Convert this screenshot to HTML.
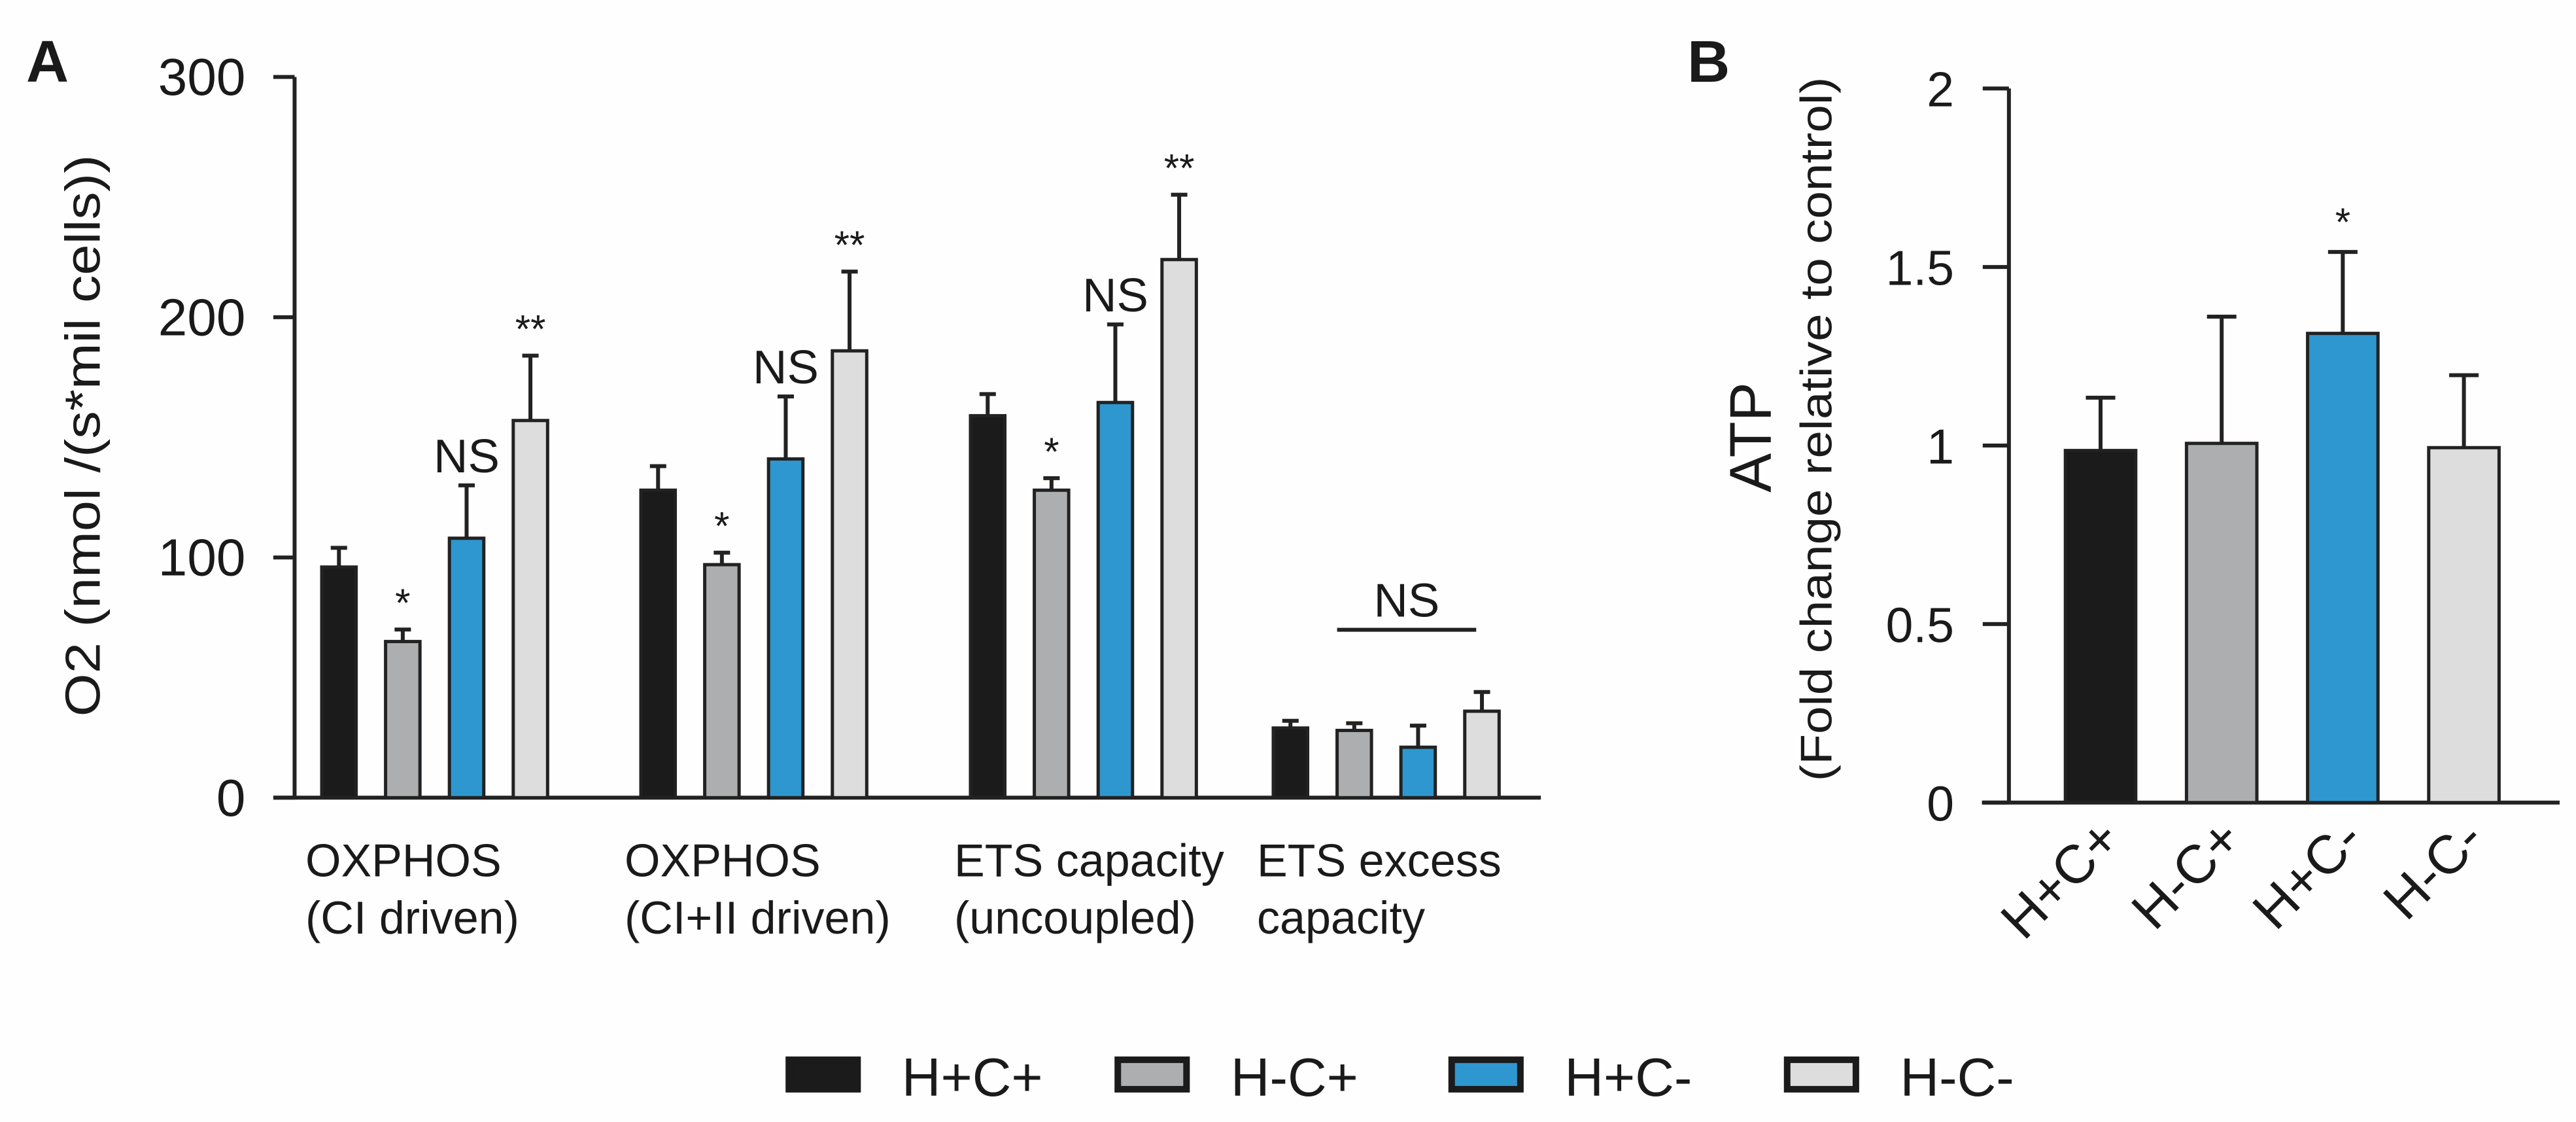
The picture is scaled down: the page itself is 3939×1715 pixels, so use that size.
<!DOCTYPE html>
<html><head><meta charset="utf-8"><style>
html,body{margin:0;padding:0;background:#fff}
svg{display:block}
text{font-family:"Liberation Sans",Arial,sans-serif;fill:#1a1a1a}
</style></head><body>
<svg id="fig" width="3939" height="1715" viewBox="0 0 1574 685" preserveAspectRatio="none" xmlns="http://www.w3.org/2000/svg">
<rect x="0" y="0" width="1574" height="685" fill="#fefefe"/>
<text x="16" y="50" font-size="36" font-weight="bold">A</text>
<text x="1031" y="50" font-size="36" font-weight="bold">B</text>
<g id="ga"></g>
<g id="gb"></g>
<g id="leg"></g>
</svg>
<script>
const seriesNames = ["H+C+","H-C+","H+C-","H-C-"];
const seriesColors = ["#1b1b1b","#acaeb0","#2e97cf","#dddddd"];
const groupLines = [["OXPHOS","(CI driven)"],["OXPHOS","(CI+II driven)"],["ETS capacity","(uncoupled)"],["ETS excess","capacity"]];
const aMeans = [[96,65,108,157],[128,97,141,186],[159,128,164.5,224],[29,28,21,36]];
const aErrs = [[8,5,22,27],[10,5,26,33],[9,5,32.5,27],[3,3,9,8]];
const aSig = [["","*","NS","**"],["","*","NS","**"],["","*","NS","**"],["","","",""]];
const aTicks = [0,100,200,300];
const bMeans = [0.986,1.006,1.314,0.994];
const bErrs = [0.148,0.355,0.228,0.203];
const bSig = ["","","*",""];
const bTicks = [0,0.5,1,1.5,2];
const bTickLabels = ["0","0.5","1","1.5","2"];

const NS="http://www.w3.org/2000/svg";
function mk(tag,attrs,parent,txt){const e=document.createElementNS(NS,tag);for(const k in attrs)e.setAttribute(k,attrs[k]);if(txt!==undefined)e.textContent=txt;parent.appendChild(e);return e;}

// Panel A
const ga=document.getElementById('ga');
const ay0=487, ay1=47, aMax=300;
const ay=v=>ay0-(v/aMax)*(ay0-ay1);
const groupStart=[196.6,391.6,593,778];
const step=39, bw=21;
const ax=(g,s)=>groupStart[g]+s*step;
let e=mk('line',{x1:180,y1:ay1,x2:180,y2:ay0,stroke:'#222','stroke-width':2.4},ga);


e=mk('line',{x1:167,y1:ay0,x2:941.5,y2:ay0,stroke:'#222','stroke-width':2.4},ga);


aTicks.forEach(t=>{
  const l=mk('line',{x1:167,y1:ay(t),x2:180,y2:ay(t),stroke:'#222','stroke-width':2.4},ga);
  
  
  const tx=mk('text',{x:150,y:ay(t)+11,'font-size':32,'text-anchor':'end'},ga,String(t));
  
  
});
e=mk('text',{x:0,y:0,'font-size':30,'text-anchor':'middle',transform:'translate(61,266) rotate(-90)',textLength:343,lengthAdjust:'spacingAndGlyphs'},ga,'O2 (nmol /(s*mil cells))');


aMeans.forEach((grp,g)=>{
  grp.forEach((v,s)=>{
    const x=ax(g,s), cx=x+bw/2, top=ay(v), et=ay(v+aErrs[g][s]);
    const el=mk('line',{x1:cx,y1:top,x2:cx,y2:et,stroke:'#222','stroke-width':2.4},ga);
    
    
    const cap=mk('line',{x1:cx-5,y1:et,x2:cx+5,y2:et,stroke:'#222','stroke-width':2.4},ga);
    
    
    const r=mk('rect',{x:x,y:top,width:bw,height:ay0-top,fill:seriesColors[s],stroke:'#222','stroke-width':2},ga);
    
    
    const sg=aSig[g][s];
    if(sg){
      const big=sg==='NS';
      const t=mk('text',{x:cx,y:et-(big?8:8),'font-size':big?29:24,'text-anchor':'middle'},ga,sg);
      
      
    }
  });
  groupLines[g].forEach((ln,i)=>{
    const t=mk('text',{x:groupStart[g]-10,y:535+i*35,'font-size':28},ga,ln);
    
    
  });
});
// group 4 NS bracket
const nsY=ay(Math.max(...aMeans[3].map((v,i)=>v+aErrs[3][i])))-38;
e=mk('line',{x1:ax(3,1),y1:nsY,x2:ax(3,3)+bw-14,y2:nsY,stroke:'#222','stroke-width':2.4},ga);


e=mk('text',{x:(ax(3,1)+ax(3,3)+bw-14)/2,y:nsY-8,'font-size':29,'text-anchor':'middle'},ga,'NS');



// Panel B
const gb=document.getElementById('gb');
const by0=490, by1=54, bMax=2;
const by=v=>by0-(v/bMax)*(by0-by1);
const bX=[1262,1336,1410,1484], bbw=43;
e=mk('line',{x1:1227.5,y1:by1,x2:1227.5,y2:by0,stroke:'#222','stroke-width':2.4},gb);


e=mk('line',{x1:1211,y1:by0,x2:1564,y2:by0,stroke:'#222','stroke-width':2.4},gb);


bTicks.forEach((t,i)=>{
  const l=mk('line',{x1:1211.5,y1:by(t),x2:1227.5,y2:by(t),stroke:'#222','stroke-width':2.4},gb);
  
  
  const tx=mk('text',{x:1194,y:by(t)+11,'font-size':30,'text-anchor':'end'},gb,bTickLabels[i]);
  
  
});
e=mk('text',{x:0,y:0,'font-size':36,'text-anchor':'middle',transform:'translate(1082,267) rotate(-90)'},gb,'ATP');


e=mk('text',{x:0,y:0,'font-size':27,'text-anchor':'middle',transform:'translate(1119,262) rotate(-90)',textLength:430,lengthAdjust:'spacingAndGlyphs'},gb,'(Fold change relative to control)');


bMeans.forEach((v,s)=>{
  const x=bX[s], cx=x+bbw/2, top=by(v), et=by(v+bErrs[s]);
  const el=mk('line',{x1:cx,y1:top,x2:cx,y2:et,stroke:'#222','stroke-width':2.4},gb);
  
  
  const cap=mk('line',{x1:cx-9,y1:et,x2:cx+9,y2:et,stroke:'#222','stroke-width':2.4},gb);
  
  
  const r=mk('rect',{x:x,y:top,width:bbw,height:by0-top,fill:seriesColors[s],stroke:'#222','stroke-width':2},gb);
  
  
  if(bSig[s]){
    const t=mk('text',{x:cx,y:et-10,'font-size':24,'text-anchor':'middle'},gb,bSig[s]);
    
    
  }
  const lt=mk('text',{x:0,y:0,'font-size':33,'text-anchor':'end',transform:`translate(${cx+14},${514}) rotate(-45)`},gb,seriesNames[s]);
  
  
});

// Legend
const leg=document.getElementById('leg');
const legX=[480,681,885,1090];
seriesNames.forEach((n,s)=>{
  const r=mk('rect',{x:legX[s]+2,y:647,width:42,height:18,fill:seriesColors[s],stroke:'#1b1b1b','stroke-width':4},leg);
  
  
  const t=mk('text',{x:legX[s]+71,y:669,'font-size':33},leg,n);
  
  
});
</script>
</body></html>
